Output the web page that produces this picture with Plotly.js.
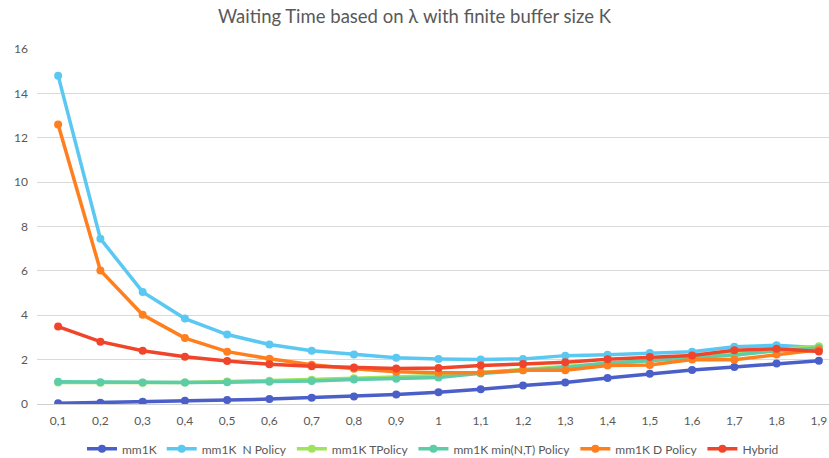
<!DOCTYPE html>
<html>
<head>
<meta charset="utf-8">
<script src="https://cdn.plot.ly/plotly-3.0.1.min.js"></script>
<style>html,body{margin:0;padding:0;background:#fff;}#chart{width:829px;height:458px;}</style>
</head>
<body>
<div id="chart"></div>
<script>
const categories = ["0,1","0,2","0,3","0,4","0,5","0,6","0,7","0,8","0,9","1","1,1","1,2","1,3","1,4","1,5","1,6","1,7","1,8","1,9"];
const mm1K      = [0.03,0.06,0.10,0.15,0.18,0.22,0.28,0.34,0.43,0.53,0.66,0.83,0.97,1.17,1.36,1.53,1.67,1.82,1.95];
const nPolicy   = [14.8,7.45,5.05,3.85,3.13,2.68,2.40,2.23,2.08,2.03,2.01,2.03,2.18,2.22,2.30,2.36,2.58,2.65,2.54];
const tPolicy   = [0.97,0.96,0.96,0.97,1.01,1.05,1.09,1.16,1.22,1.30,1.42,1.56,1.70,1.83,1.96,2.15,2.28,2.45,2.60];
const minPolicy = [1.00,0.98,0.97,0.97,0.98,1.00,1.04,1.10,1.14,1.20,1.38,1.52,1.64,1.85,1.95,2.10,2.20,2.40,2.52];
const dPolicy   = [12.6,6.02,4.02,2.97,2.36,2.04,1.77,1.59,1.45,1.41,1.41,1.52,1.52,1.73,1.76,2.01,1.99,2.23,2.45];
const hybrid    = [3.49,2.81,2.40,2.13,1.94,1.79,1.70,1.64,1.60,1.62,1.73,1.80,1.88,2.02,2.12,2.19,2.42,2.49,2.37];

const seriesNames = ["mm1K","mm1K  N Policy","mm1K TPolicy","mm1K min(N,T) Policy","mm1K D Policy","Hybrid"];
const seriesData = [mm1K,nPolicy,tPolicy,minPolicy,dPolicy,hybrid];
const colors = ["#4a5fc8","#5bc8f2","#a0e35c","#5ccca9","#ff7f1f","#f0452b"];

const traces = seriesData.map((d,i)=>({
  type:"scatter", mode:"lines+markers",
  x: categories, y: d, name: seriesNames[i],
  line:{color:colors[i], width:3.5},
  marker:{color:colors[i], size:8},
  hoverinfo:"skip"
}));

const layout = {
  width:829, height:458,
  margin:{l:37, r:0, t:49, b:54, autoexpand:false},
  paper_bgcolor:"#ffffff", plot_bgcolor:"#ffffff",
  font:{family:"Lato, 'Open Sans', sans-serif", color:"#595959", size:12},
  title:{text:"Waiting Time based on λ with finite buffer size K", x:0.5, xanchor:"center", y:0.963, yanchor:"middle",
         font:{size:18.5, color:"#595959", family:"Lato, 'Open Sans', sans-serif"}},
  xaxis:{type:"category", range:[-0.5, 18.24], showgrid:false, zeroline:false,
         showline:true, linecolor:"#d0d0d0", linewidth:1, ticks:"", automargin:false,
         ticklabelstandoff:6,
         tickfont:{size:12, color:"#595959"}, fixedrange:true},
  yaxis:{range:[0,16], dtick:2, showgrid:true, gridcolor:"#d9d9d9", gridwidth:1,
         zeroline:false, showline:false, ticks:"", ticklen:0, automargin:false,
         ticklabelstandoff:8,
         tickfont:{size:12, color:"#595959"}, fixedrange:true},
  showlegend:true,
  legend:{orientation:"h", x:0.5, xanchor:"center", yref:"container", y:0.02, yanchor:"middle",
          font:{size:12, color:"#595959"}, itemwidth:30, tracegroupgap:0}
};

Plotly.newPlot("chart", traces, layout, {displayModeBar:false, staticPlot:true});
</script>
</body>
</html>
